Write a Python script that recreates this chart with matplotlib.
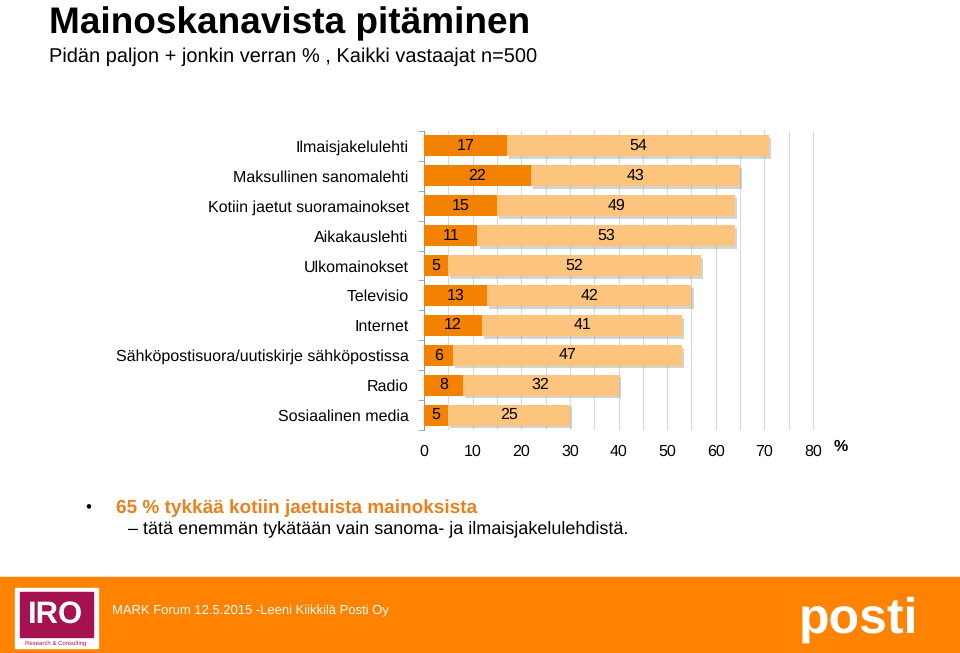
import matplotlib
matplotlib.use("Agg")
import matplotlib.pyplot as plt
import matplotlib.patheffects as pe
from matplotlib.patches import Rectangle

plt.rcParams['font.family'] = ['Liberation Sans', 'DejaVu Sans']
plt.rcParams['text.hinting_factor'] = 1
plt.rcParams['text.hinting'] = 'no_hinting'

categories = ["Ilmaisjakelulehti", "Maksullinen sanomalehti", "Kotiin jaetut suoramainokset",
              "Aikakauslehti", "Ulkomainokset", "Televisio", "Internet",
              "Sähköpostisuora/uutiskirje sähköpostissa", "Radio", "Sosiaalinen media"]
paljon = [17, 22, 15, 11, 5, 13, 12, 6, 8, 5]
jonkin = [54, 43, 49, 53, 52, 42, 41, 47, 32, 25]
xticks = [0, 10, 20, 30, 40, 50, 60, 70, 80]

DARK = "#F28200"
LIGHT = "#FDC47E"
ORANGE = "#FF8200"

W, H = 960, 653
fig = plt.figure(figsize=(9.6, 6.53), dpi=100)

def fx(px):
    return px / W

def fy(py):
    return 1 - py / H

# Title & subtitle
fig.text(fx(49), fy(33), "Mainoskanavista pitäminen", fontsize=26.7, fontweight='bold',
         va='baseline', ha='left', color='black')
fig.text(fx(49), fy(57), "Pidän paljon + jonkin verran % , Kaikki vastaajat n=500", fontsize=14.7,
         va='center', ha='left', color='black')

# Chart axes
XMAX = 80.4
px_per_unit = (813 - 424) / 80
ax = fig.add_axes([fx(424), fy(430), XMAX * px_per_unit / W, (430 - 131) / H])
y = list(range(len(categories)))
shadow = [pe.SimplePatchShadow(offset=(1.5, -2), shadow_rgbFace='#A0A0A0', alpha=0.45), pe.Normal()]
b1 = ax.barh(y, paljon, height=0.7, color=DARK, zorder=3)
b2 = ax.barh(y, jonkin, left=paljon, height=0.7, color=LIGHT, zorder=3)
for bar in list(b2):
    bar.set_path_effects(shadow)
for i in y:
    ax.text(paljon[i] / 2, i, str(paljon[i]), ha='center', va='center', fontsize=11.6, zorder=5)
    ax.text(paljon[i] + jonkin[i] / 2, i, str(jonkin[i]), ha='center', va='center', fontsize=11.6, zorder=5)

ax.set_xlim(0, XMAX)
ax.set_ylim(len(categories) - 0.5, -0.5)
ax.set_xticks(xticks)
ax.set_xticks(list(range(0, 81, 5)), minor=True)
ax.xaxis.grid(True, which='both', color='#D9D9D9', linewidth=0.8, zorder=0)
ax.set_axisbelow(True)
ax.tick_params(axis='x', which='both', length=0, pad=10, labelsize=11.6)
ax.set_yticks(y)
ax.set_yticklabels(categories, fontsize=11.4)
ax.set_yticks([i - 0.5 for i in range(len(categories) + 1)], minor=True)
ax.tick_params(axis='y', which='major', length=0, pad=11)
ax.tick_params(axis='y', which='minor', length=4, color='#999999', direction='out')
for s in ['top', 'right', 'bottom']:
    ax.spines[s].set_visible(False)
ax.spines['left'].set_color('#999999')
ax.spines['left'].set_linewidth(0.8)
fig.text(fx(841), fy(447), "%", fontsize=11.5, fontweight='bold', ha='center', va='center')

# Bullet text
fig.text(fx(88), fy(508), "•", fontsize=12, ha='center', va='center', color='black')
fig.text(fx(116), fy(508), "65 % tykkää kotiin jaetuista mainoksista", fontsize=13.7,
         fontweight='bold', color='#E8811E', ha='left', va='center')
fig.text(fx(128), fy(529), "– tätä enemmän tykätään vain sanoma- ja ilmaisjakelulehdistä.", fontsize=13.2,
         color='black', ha='left', va='center')

# Footer
fig.patches.append(Rectangle((0, 0), 1, fy(577), transform=fig.transFigure, color=ORANGE, zorder=0))
fig.patches.append(Rectangle((fx(15), fy(648)), fx(98) - fx(15), (648 - 588) / H,
                             transform=fig.transFigure, color='white', zorder=1))
fig.patches.append(Rectangle((fx(20), fy(637)), fx(93) - fx(20), (637 - 592) / H,
                             transform=fig.transFigure, color='#A5124F', zorder=2))
fig.text(fx(55), fy(615), "IRO", fontsize=22, fontweight='bold', color='white', ha='center', va='center', zorder=3)
fig.text(fx(56), fy(643), "Research & Consulting", fontsize=4.2, color='#A5124F', ha='center', va='center', zorder=3)
fig.text(fx(112), fy(611), "MARK Forum 12.5.2015 -Leeni Kiikkilä Posti Oy", fontsize=9.7,
         color='white', ha='left', va='center')
fig.text(fx(858), fy(620), "posti", fontsize=36, fontweight='bold', color='white',
         ha='center', va='center')

fig.savefig("out.png", dpi=100)
